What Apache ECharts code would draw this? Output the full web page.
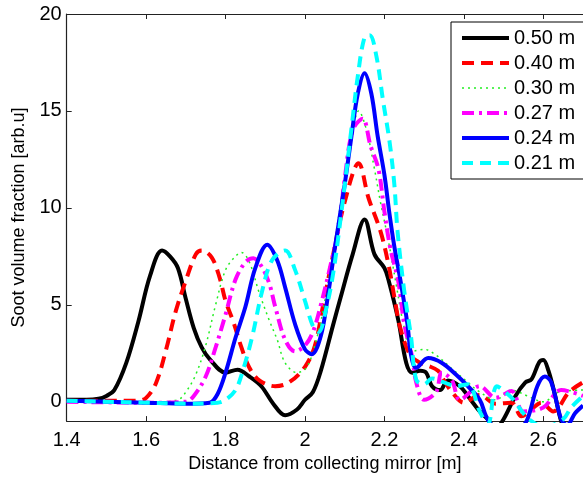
<!DOCTYPE html>
<html>
<head>
<meta charset="utf-8">
<script src="https://cdn.jsdelivr.net/npm/echarts@6/dist/echarts.min.js"></script>
<style>
html,body{margin:0;padding:0;background:#fff;}
#chart{width:583px;height:478px;}
</style>
</head>
<body>
<div id="chart"></div>
<script>
// ---- data ----
const seriesNames = ['0.50 m', '0.40 m', '0.30 m', '0.27 m', '0.24 m', '0.21 m'];
const xTicks = [1.4, 1.6, 1.8, 2.0, 2.2, 2.4, 2.6];
const yTicks = [0, 5, 10, 15, 20];

const x050 = [1.40,1.45,1.48,1.50,1.52,1.55,1.58,1.61,1.64,1.66,1.68,1.70,1.72,1.74,1.76,1.80,1.83,1.86,1.89,1.92,1.95,1.98,2.00,2.02,2.04,2.07,2.09,2.12,2.15,2.175,2.20,2.21,2.235,2.255,2.27,2.29,2.305,2.32,2.34,2.36,2.39,2.41,2.44,2.46,2.48,2.50,2.53,2.555,2.57,2.59,2.60,2.613,2.63,2.645,2.66,2.70];
const y050 = [0.1,0.1,0.15,0.3,0.6,2.0,4.1,6.5,7.8,7.5,6.9,5.3,3.8,2.8,2.2,1.5,1.65,1.3,0.8,-0.1,-0.7,-0.4,0.1,0.5,1.6,3.9,5.4,7.6,9.4,7.6,6.9,6.3,4.2,2.0,1.5,1.6,1.5,0.8,0.6,1.1,0.8,0.3,-0.5,-0.9,-1.4,-0.9,0.3,1.0,1.15,2.05,2.15,1.6,0.3,-1.0,-1.6,-1.6];

const x040 = [1.40,1.50,1.58,1.60,1.625,1.65,1.675,1.70,1.725,1.74,1.765,1.785,1.80,1.82,1.84,1.86,1.885,1.925,1.96,2.00,2.025,2.045,2.07,2.10,2.135,2.16,2.19,2.21,2.225,2.24,2.265,2.29,2.31,2.335,2.35,2.37,2.40,2.44,2.48,2.52,2.545,2.57,2.595,2.625,2.665,2.70];
const y040 = [0.05,0.05,0.05,0.2,0.97,2.67,4.7,6.25,7.6,7.8,7.45,6.4,5.2,4.1,2.8,1.75,1.1,0.8,1.0,1.8,2.9,4.9,7.5,10.3,12.3,10.5,8.8,7.1,5.4,3.8,2.4,2.0,1.85,1.6,1.1,0.5,-0.05,0.35,-0.1,-0.05,-0.75,-0.4,-0.05,-0.5,0.5,1.0];

const x030 = [1.40,1.60,1.68,1.70,1.725,1.75,1.775,1.80,1.825,1.84,1.86,1.885,1.91,1.93,1.95,1.98,2.005,2.03,2.05,2.075,2.10,2.12,2.135,2.155,2.175,2.19,2.21,2.23,2.25,2.27,2.30,2.33,2.37,2.41,2.44,2.48,2.52,2.56,2.60,2.64,2.70];
const y030 = [0.0,-0.05,0.1,0.5,1.4,2.9,5.0,6.8,7.5,7.7,7.2,5.6,4.2,3.2,2.0,1.5,1.8,3.3,5.2,8.3,11.5,14.0,15.0,14.0,12.0,10.3,8.3,6.0,3.8,2.6,2.7,2.4,1.7,1.0,0.5,0.1,0.6,0.3,0.0,0.5,0.6];

const x027 = [1.40,1.60,1.70,1.72,1.75,1.775,1.80,1.825,1.85,1.87,1.89,1.91,1.925,1.95,1.975,2.0,2.02,2.04,2.065,2.085,2.10,2.12,2.145,2.165,2.185,2.20,2.215,2.235,2.25,2.27,2.28,2.30,2.33,2.345,2.37,2.39,2.44,2.48,2.52,2.55,2.60,2.645,2.70];
const y027 = [0.0,-0.05,0.0,0.3,1.3,2.8,4.5,6.3,7.2,7.4,7.0,6.1,4.9,3.2,2.6,2.9,3.6,5.0,7.1,9.0,11.5,14.0,14.6,13.2,12.0,9.8,7.9,6.2,4.0,2.3,1.0,0.1,0.5,1.5,1.1,0.1,0.8,0.2,0.55,-0.5,-0.3,0.6,0.3];

const x024 = [1.40,1.50,1.60,1.70,1.76,1.78,1.80,1.825,1.85,1.875,1.905,1.93,1.95,1.975,2.0,2.017,2.04,2.058,2.075,2.10,2.117,2.133,2.15,2.167,2.183,2.20,2.212,2.225,2.24,2.258,2.267,2.28,2.31,2.345,2.38,2.41,2.44,2.455,2.47,2.50,2.54,2.56,2.585,2.604,2.62,2.645,2.66,2.68,2.70];
const y024 = [0.05,0.0,-0.05,-0.1,-0.05,0.4,1.5,3.3,4.9,6.9,8.1,7.3,5.9,4.0,2.7,2.45,3.4,5.5,7.9,11.2,13.7,15.9,16.95,15.9,13.7,11.7,9.8,8.0,6.3,4.0,2.4,1.75,2.25,2.0,1.4,0.8,0.1,-0.7,-1.2,-1.6,-1.4,-0.9,0.8,1.3,1.0,-0.9,-1.2,-0.6,-0.2];

const x021 = [1.40,1.50,1.60,1.70,1.78,1.80,1.825,1.842,1.867,1.892,1.917,1.95,1.975,2.0,2.02,2.035,2.05,2.07,2.09,2.117,2.133,2.15,2.163,2.18,2.196,2.213,2.225,2.233,2.25,2.267,2.28,2.30,2.32,2.35,2.38,2.41,2.44,2.46,2.483,2.51,2.525,2.55,2.567,2.60,2.65,2.67,2.70];
const y021 = [0.05,0.0,-0.05,-0.1,-0.05,0.1,0.6,1.5,3.35,5.7,7.3,7.8,6.8,5.2,3.9,3.6,4.5,6.5,9.5,14.1,16.8,18.8,18.9,17.8,15.6,13.4,11.2,8.8,5.7,3.35,1.14,0.9,1.2,1.0,0.8,0.9,-0.5,-1.2,0.8,0.4,0.1,-0.6,-0.95,-1.3,-0.9,-0.3,0.3];

// ---- chart ----
const FONT = '"Liberation Sans", Arial, sans-serif';
const zip = (xs, ys) => xs.map((x, i) => [x, ys[i]]);
const seriesData = [zip(x050,y050), zip(x040,y040), zip(x030,y030), zip(x027,y027), zip(x024,y024), zip(x021,y021)];
const styles = [
  {color:'#000000', width:4, type:'solid'},
  {color:'#ff0000', width:4, type:[12,7]},
  {color:'#22ee22', width:1.5, type:[2,4]},
  {color:'#ff00ff', width:4, type:[12,5,3,5]},
  {color:'#0000ff', width:4, type:'solid'},
  {color:'#00ffff', width:4, type:[11,7]}
];

const chart = echarts.init(document.getElementById('chart'), null, {renderer:'canvas'});
const tickFmt = v => String(+(+v).toFixed(1));
chart.setOption({
  animation: false,
  backgroundColor: '#fff',
  grid: {left: 66.7, right: -4, top: 14, bottom: 51.3, containLabel: false},
  legend: {
    data: seriesNames,
    left: 451, top: 22,
    orient: 'vertical',
    backgroundColor: '#fff',
    borderColor: '#000', borderWidth: 1,
    padding: [6, 9, 6, 9],
    itemWidth: 47, itemHeight: 20, itemGap: 5,
    itemStyle: {color: 'rgba(0,0,0,0)', borderColor: 'rgba(0,0,0,0)', borderWidth: 0, opacity: 0},
    lineStyle: {width: 'inherit', type: 'inherit', color: 'inherit'},
    textStyle: {fontFamily: FONT, fontSize: 20, color: '#000', padding:[0,0,0,0]},
    selectedMode: false
  },
  xAxis: [{
    type: 'value', min: 1.4, max: 2.7,
    axisLine: {show: true, onZero: false, lineStyle: {color: '#222', width: 1.2}},
    axisTick: {show: true, inside: true, length: 5, customValues: xTicks, lineStyle: {color:'#222'}},
    axisLabel: {customValues: xTicks, formatter: tickFmt, fontFamily: FONT, fontSize: 20, color: '#000', margin: 9},
    splitLine: {show: false},
    name: 'Distance from collecting mirror [m]', nameLocation: 'middle', nameGap: 27,
    nameTextStyle: {fontFamily: FONT, fontSize: 18, color: '#000'}
  }, {
    type: 'value', min: 1.4, max: 2.7, position: 'top',
    axisLine: {show: true, onZero: false, lineStyle: {color: '#222', width: 1.2}},
    axisTick: {show: true, inside: true, length: 5, customValues: xTicks, lineStyle: {color:'#222'}},
    axisLabel: {show: false},
    splitLine: {show: false}
  }],
  yAxis: [{
    type: 'value', min: -1, max: 20,
    axisLine: {show: true, onZero: false, lineStyle: {color: '#222', width: 1.2}},
    axisTick: {show: true, inside: true, length: 5, customValues: yTicks, lineStyle: {color:'#222'}},
    axisLabel: {customValues: yTicks, fontFamily: FONT, fontSize: 20, color: '#000', margin: 5},
    splitLine: {show: false},
    name: 'Soot volume fraction [arb.u]', nameLocation: 'middle', nameGap: 39,
    nameTextStyle: {fontFamily: FONT, fontSize: 18, color: '#000'}
  }],
  series: seriesNames.map((n, i) => ({
    name: n, type: 'line', data: seriesData[i],
    symbol: 'none', smooth: 0.35, clip: true,
    lineStyle: {color: styles[i].color, width: styles[i].width, type: styles[i].type},
    itemStyle: {color: styles[i].color}
  }))
});
</script>
</body>
</html>
